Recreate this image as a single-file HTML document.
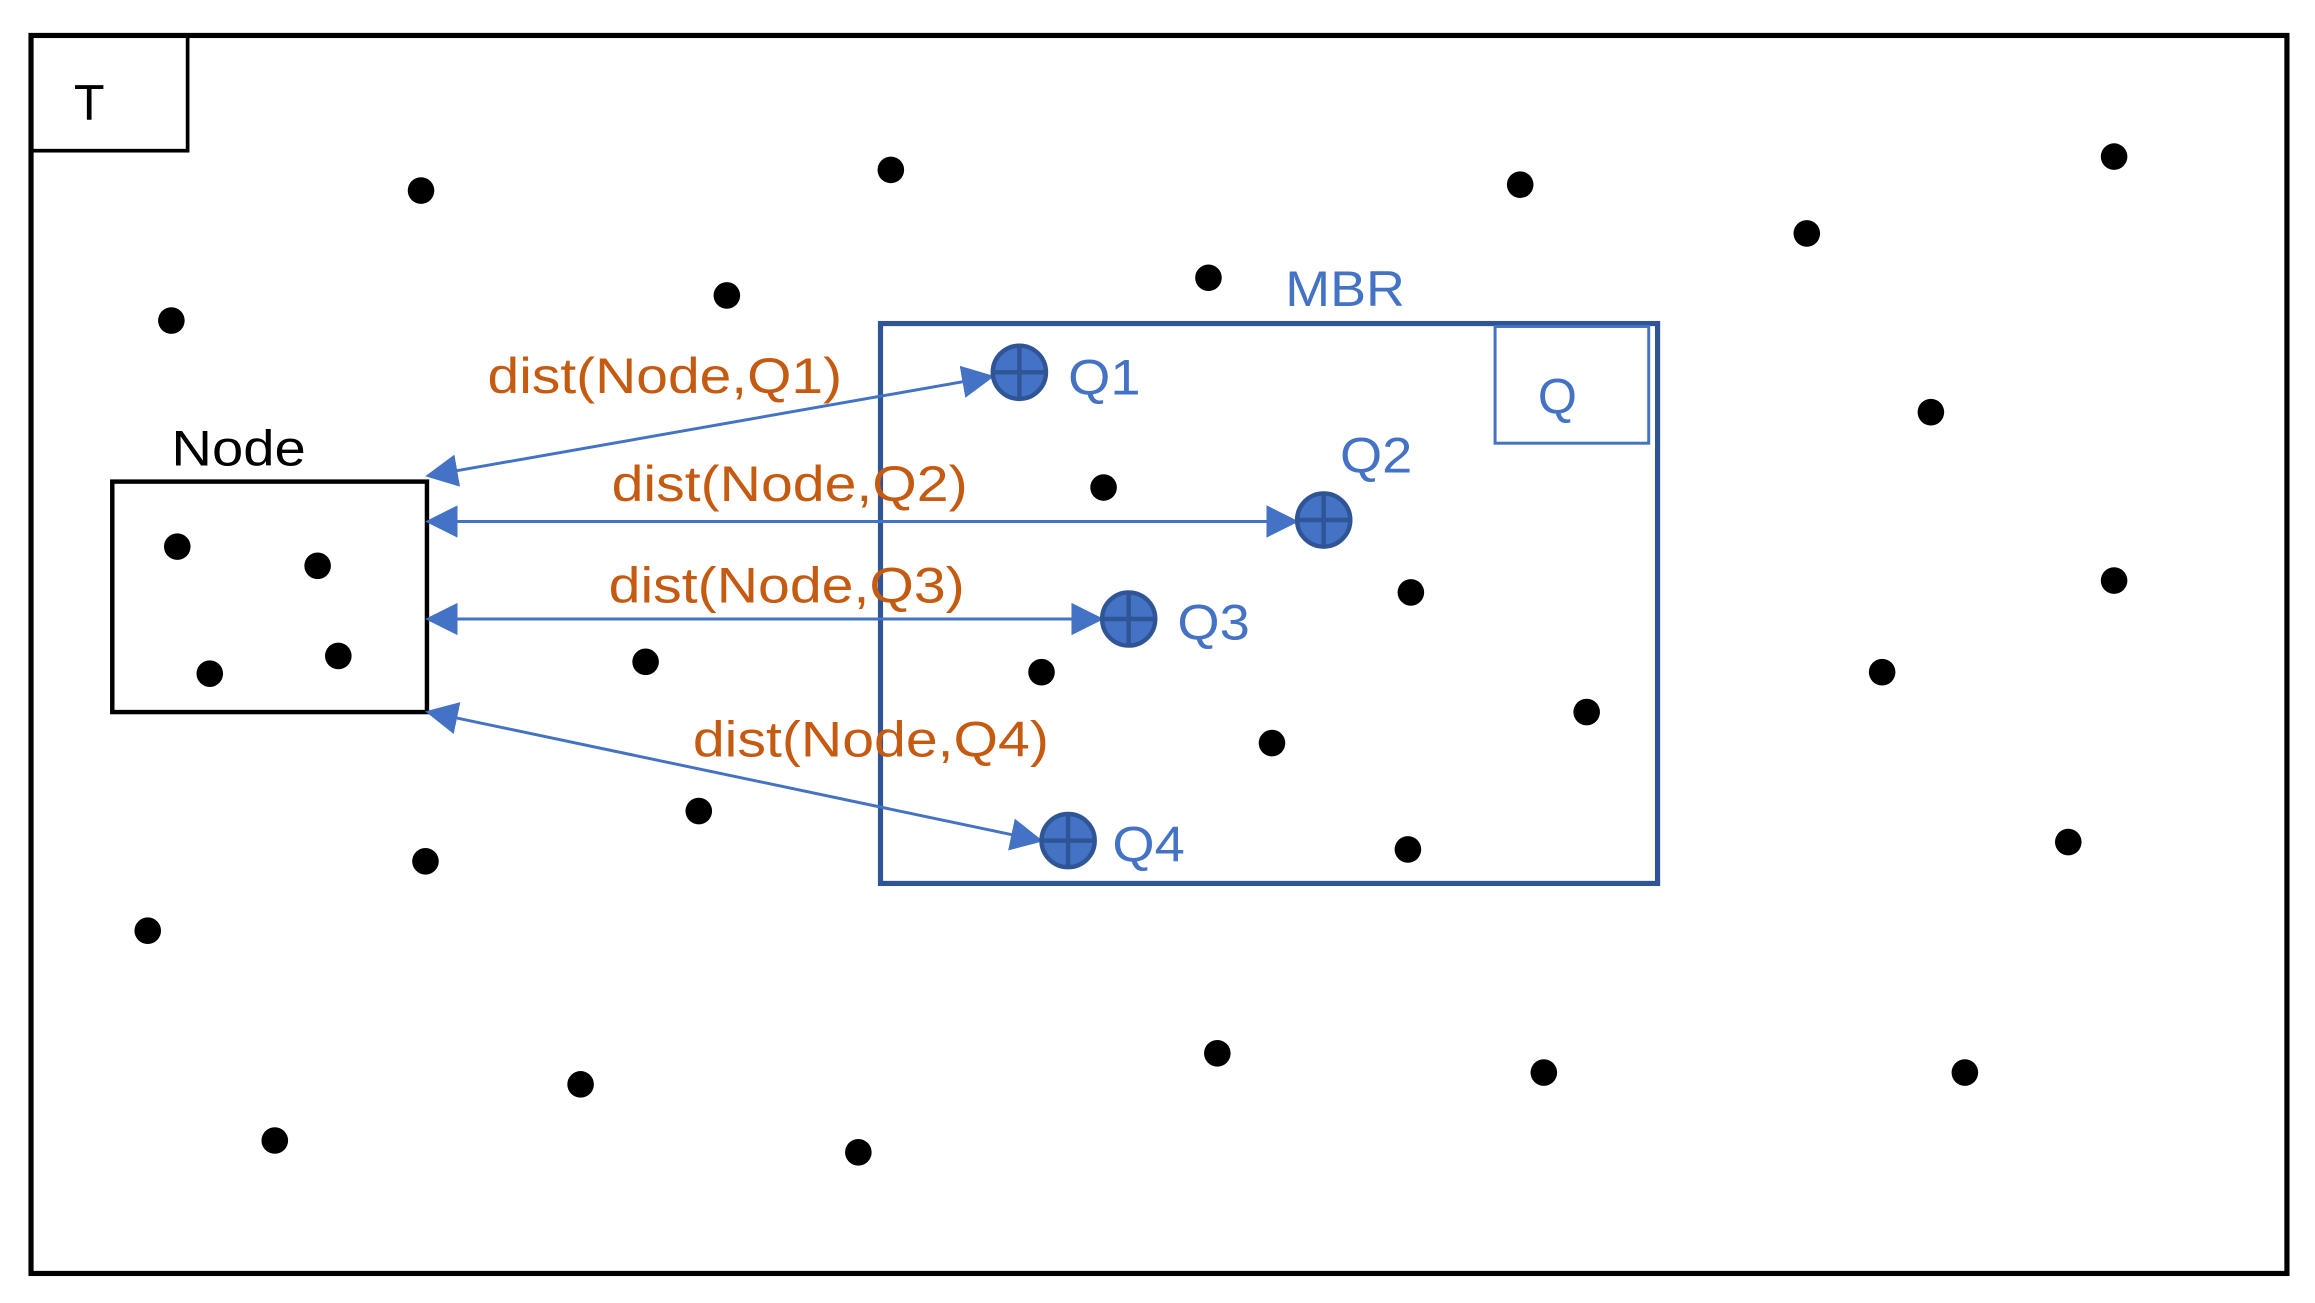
<!DOCTYPE html>
<html><head><meta charset="utf-8"><style>
html,body{margin:0;padding:0;background:#fff;}
svg{display:block;}
text{font-family:"Liberation Sans",sans-serif;}
</style></head><body>
<svg width="2315" height="1303" viewBox="0 0 1567 882" preserveAspectRatio="none" xmlns="http://www.w3.org/2000/svg">
<defs>
<marker id="ah2" viewBox="0 0 10 10" refX="9" refY="5" markerWidth="22" markerHeight="22" markerUnits="userSpaceOnUse" orient="auto-start-reverse">
<path d="M0,0 L10,5 L0,10 z" fill="#4472c4"/>
</marker>
</defs>
<rect x="0" y="0" width="1567" height="882" fill="#fff"/>
<rect x="21" y="24" width="1527" height="838" fill="none" stroke="#000" stroke-width="3.5"/>
<rect x="21" y="24" width="106" height="78" fill="none" stroke="#000" stroke-width="2.5"/>
<text x="50" y="81" font-size="34" fill="#000">T</text>

<rect x="76" y="326" width="213" height="156" fill="none" stroke="#000" stroke-width="3"/>
<text x="116" y="315" font-size="34" fill="#000" textLength="91" lengthAdjust="spacingAndGlyphs">Node</text>

<rect x="596" y="219" width="526" height="379" fill="none" stroke="#2f5597" stroke-width="3.5"/>
<text x="870" y="207" font-size="34" fill="#4472c4" textLength="81" lengthAdjust="spacingAndGlyphs">MBR</text>
<rect x="1012" y="221" width="104" height="79" fill="none" stroke="#4472c4" stroke-width="2"/>
<text x="1041" y="280" font-size="34" fill="#4472c4">Q</text>

<g fill="#000">
<circle cx="285" cy="129" r="9"/><circle cx="603" cy="115" r="9"/><circle cx="1029" cy="125" r="9"/>
<circle cx="1431" cy="106" r="9"/><circle cx="1223" cy="158" r="9"/><circle cx="116" cy="217" r="9"/>
<circle cx="492" cy="200" r="9"/><circle cx="818" cy="188" r="9"/><circle cx="1307" cy="279" r="9"/>
<circle cx="747" cy="330" r="9"/><circle cx="955" cy="401" r="9"/><circle cx="1431" cy="393" r="9"/>
<circle cx="120" cy="370" r="9"/><circle cx="215" cy="383" r="9"/><circle cx="142" cy="456" r="9"/>
<circle cx="229" cy="444" r="9"/><circle cx="437" cy="448" r="9"/><circle cx="705" cy="455" r="9"/>
<circle cx="1274" cy="455" r="9"/><circle cx="1074" cy="482" r="9"/><circle cx="861" cy="503" r="9"/>
<circle cx="473" cy="549" r="9"/><circle cx="288" cy="583" r="9"/><circle cx="953" cy="575" r="9"/>
<circle cx="1400" cy="570" r="9"/><circle cx="100" cy="630" r="9"/><circle cx="824" cy="713" r="9"/>
<circle cx="1045" cy="726" r="9"/><circle cx="1330" cy="726" r="9"/><circle cx="393" cy="734" r="9"/>
<circle cx="186" cy="772" r="9"/><circle cx="581" cy="780" r="9"/>
</g>

<g stroke="#4472c4" stroke-width="2" fill="none">
<line x1="290" y1="322" x2="671" y2="255" marker-start="url(#ah2)" marker-end="url(#ah2)"/>
<line x1="290" y1="353" x2="877" y2="353" marker-start="url(#ah2)" marker-end="url(#ah2)"/>
<line x1="290" y1="419" x2="745" y2="419" marker-start="url(#ah2)" marker-end="url(#ah2)"/>
<line x1="290" y1="482" x2="704" y2="569" marker-start="url(#ah2)" marker-end="url(#ah2)"/>
</g>

<g>
<g transform="translate(690,252)"><circle r="18" fill="#4472c4" stroke="#2f5597" stroke-width="3"/><path d="M-18,0H18M0,-18V18" stroke="#2f5597" stroke-width="3"/></g>
<g transform="translate(896,352)"><circle r="18" fill="#4472c4" stroke="#2f5597" stroke-width="3"/><path d="M-18,0H18M0,-18V18" stroke="#2f5597" stroke-width="3"/></g>
<g transform="translate(764,419)"><circle r="18" fill="#4472c4" stroke="#2f5597" stroke-width="3"/><path d="M-18,0H18M0,-18V18" stroke="#2f5597" stroke-width="3"/></g>
<g transform="translate(723,569)"><circle r="18" fill="#4472c4" stroke="#2f5597" stroke-width="3"/><path d="M-18,0H18M0,-18V18" stroke="#2f5597" stroke-width="3"/></g>
</g>
<g font-size="34" fill="#4472c4">
<text x="723" y="267" textLength="49" lengthAdjust="spacingAndGlyphs">Q1</text>
<text x="907" y="320" textLength="49" lengthAdjust="spacingAndGlyphs">Q2</text>
<text x="797" y="433" textLength="49" lengthAdjust="spacingAndGlyphs">Q3</text>
<text x="753" y="583" textLength="49" lengthAdjust="spacingAndGlyphs">Q4</text>
</g>
<g font-size="34" fill="#c55a11">
<text x="330" y="266" textLength="240" lengthAdjust="spacingAndGlyphs">dist(Node,Q1)</text>
<text x="414" y="339" textLength="241" lengthAdjust="spacingAndGlyphs">dist(Node,Q2)</text>
<text x="412" y="408" textLength="241" lengthAdjust="spacingAndGlyphs">dist(Node,Q3)</text>
<text x="469" y="512" textLength="241" lengthAdjust="spacingAndGlyphs">dist(Node,Q4)</text>
</g>
</svg>
</body></html>
